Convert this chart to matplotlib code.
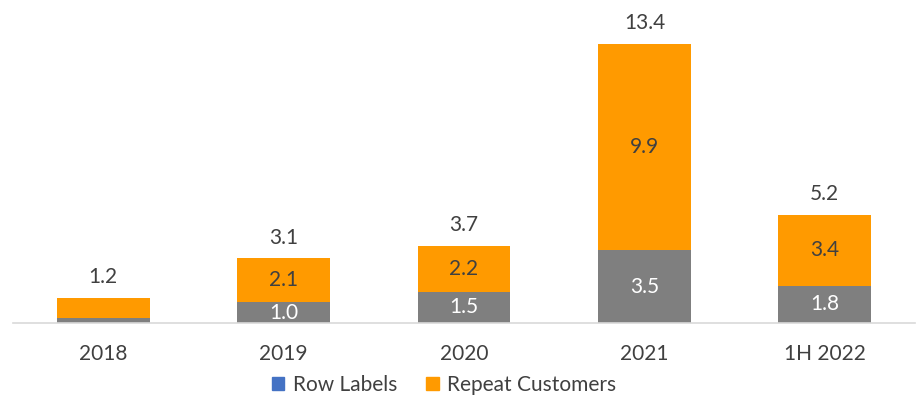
import matplotlib.pyplot as plt
from matplotlib.patches import Patch

categories = ["2018", "2019", "2020", "2021", "1H 2022"]
first_time = [0.24, 1.0, 1.5, 3.5, 1.8]
repeat = [0.96, 2.1, 2.2, 9.9, 3.4]
totals = [1.2, 3.1, 3.7, 13.4, 5.2]
show_segment_labels = [False, True, True, True, True]

gray = "#7f7f7f"
orange = "#ff9a00"
blue = "#4472c4"
text_color = "#404040"
fs = 15

plt.rcParams['font.family'] = ['Lato', 'DejaVu Sans']

fig = plt.figure(figsize=(9.18, 3.98), dpi=100)
ax = fig.add_axes([13 / 918, 75 / 398, 902 / 918, 323 / 398])

x = list(range(len(categories)))
ax.bar(x, first_time, width=0.515, color=gray)
ax.bar(x, repeat, width=0.515, bottom=first_time, color=orange)

for i in x:
    if show_segment_labels[i]:
        ax.text(i, first_time[i] / 2, f"{first_time[i]:.1f}", ha='center', va='center',
                color='white', fontsize=fs)
        ax.text(i, first_time[i] + repeat[i] / 2, f"{repeat[i]:.1f}", ha='center', va='center',
                color=text_color, fontsize=fs)
    ax.annotate(f"{totals[i]:.1f}", (i, totals[i]), xytext=(0, 15), textcoords='offset points',
                ha='center', va='center', color=text_color, fontsize=fs)

ax.set_xlim(-0.5, 4.5)
ax.set_ylim(0, 13.4 * 323 / 279)
ax.set_xticks(x)
ax.set_xticklabels(categories, color=text_color, fontsize=fs)
ax.tick_params(axis='x', length=0, pad=15)
ax.set_yticks([])
for s in ['top', 'right', 'left']:
    ax.spines[s].set_visible(False)
ax.spines['bottom'].set_color('#d9d9d9')
ax.spines['bottom'].set_linewidth(1.2)

handles = [Patch(color=blue, label="Row Labels"), Patch(color=orange, label="Repeat Customers")]
fig.legend(handles=handles, loc='center', bbox_to_anchor=(444 / 918, 1 - 385 / 398), ncol=2,
           frameon=False, fontsize=fs, handlelength=0.6, handleheight=0.6, columnspacing=1.4,
           handletextpad=0.4, labelcolor=text_color)

fig.savefig("out.png", dpi=100)
